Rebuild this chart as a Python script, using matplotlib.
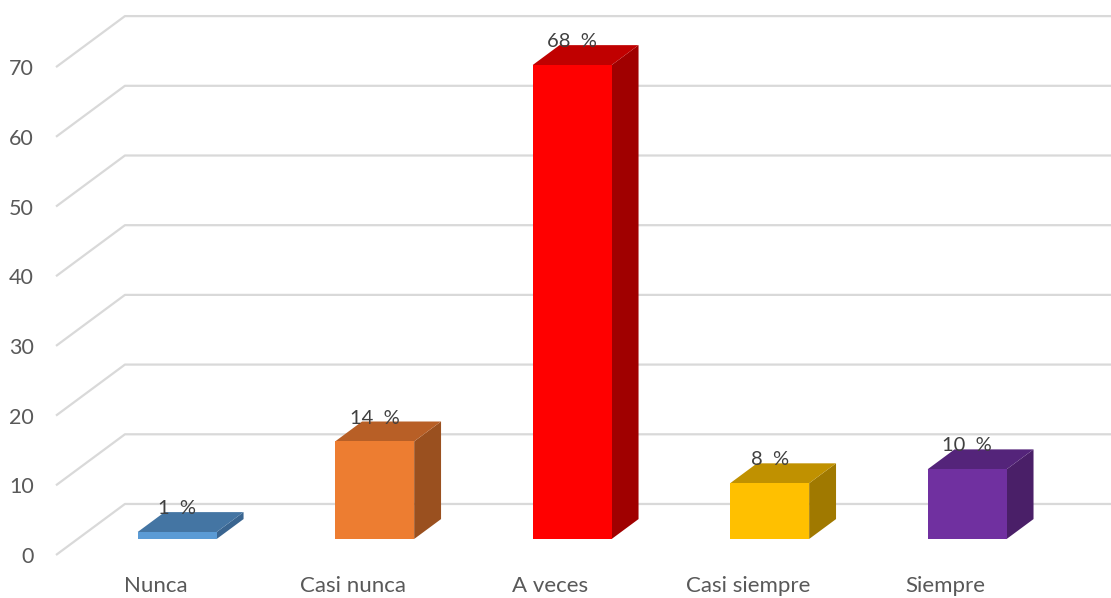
import matplotlib.pyplot as plt
from matplotlib.patches import Polygon

plt.rcParams['font.family'] = ['Lato', 'DejaVu Sans']

# datos de la gráfica
categorias = ['Nunca', 'Casi nunca', 'A veces', 'Casi siempre', 'Siempre']
porcentajes = [1, 14, 68, 8, 10]
ticks_y = [0, 10, 20, 30, 40, 50, 60, 70]

# colores: frente, tapa y lateral de cada barra
c_frente = ['#5b9bd5', '#ed7d31', '#ff0000', '#ffc000', '#7030a0']
c_tapa = ['#4475a3', '#b85f26', '#c00000', '#c09100', '#54247a']
c_lado = ['#3a6590', '#9a501f', '#a00000', '#a07900', '#4a1f68']

# perspectiva oblicua: desplazamiento de la profundidad total
DX = 0.349   # en unidades de categoría
DY = 7.32    # en unidades del eje y
D0 = 0.314   # profundidad donde empieza la cara frontal
BD = 0.39    # fondo de la barra
ANCHO = 0.40

gris_txt = '#595959'
gris_grid = '#d9d9d9'

fig = plt.figure(figsize=(11.11, 5.98), dpi=100)
ax = fig.add_axes([56 / 1111, 0, 1 - 56 / 1111, 1])
ax.set_xlim(-0.504, 4.838)
ax.set_ylim(-6.17, 79.63)
for s in ax.spines.values():
    s.set_visible(False)

# líneas de cuadrícula: pared izquierda en diagonal y luego al fondo
x0, x1 = ax.get_xlim()
for t in ticks_y:
    ax.plot([x0, x0 + DX, x1], [t, t + DY, t + DY], color=gris_grid,
            lw=1.6, zorder=1, clip_on=False, solid_capstyle='butt')

ax.set_yticks(ticks_y)
ax.set_xticks([])
ax.tick_params(axis='y', length=0, pad=16, labelsize=15.5, labelcolor=gris_txt)

# barras 3D
dx, dy = DX * BD, DY * BD
for i, v in enumerate(porcentajes):
    xc = i + DX * D0
    base = DY * D0
    xl, xr = xc - ANCHO / 2, xc + ANCHO / 2
    top = base + v
    frente = Polygon([(xl, base), (xr, base), (xr, top), (xl, top)],
                     closed=True, fc=c_frente[i], ec='none', zorder=3)
    tapa = Polygon([(xl, top), (xr, top), (xr + dx, top + dy), (xl + dx, top + dy)],
                   closed=True, fc=c_tapa[i], ec='none', zorder=3)
    lado = Polygon([(xr, base), (xr + dx, base + dy), (xr + dx, top + dy), (xr, top)],
                   closed=True, fc=c_lado[i], ec='none', zorder=3)
    for p in (lado, tapa, frente):
        ax.add_patch(p)
    ax.text(xc, top + dy + 0.5, f'{v}  %', ha='center', va='center',
            fontsize=14.5, color='#404040', zorder=4)
    ax.text(i, -4.4, categorias[i], ha='center', va='center',
            fontsize=16, color=gris_txt)

fig.savefig('out.png', dpi=100)
